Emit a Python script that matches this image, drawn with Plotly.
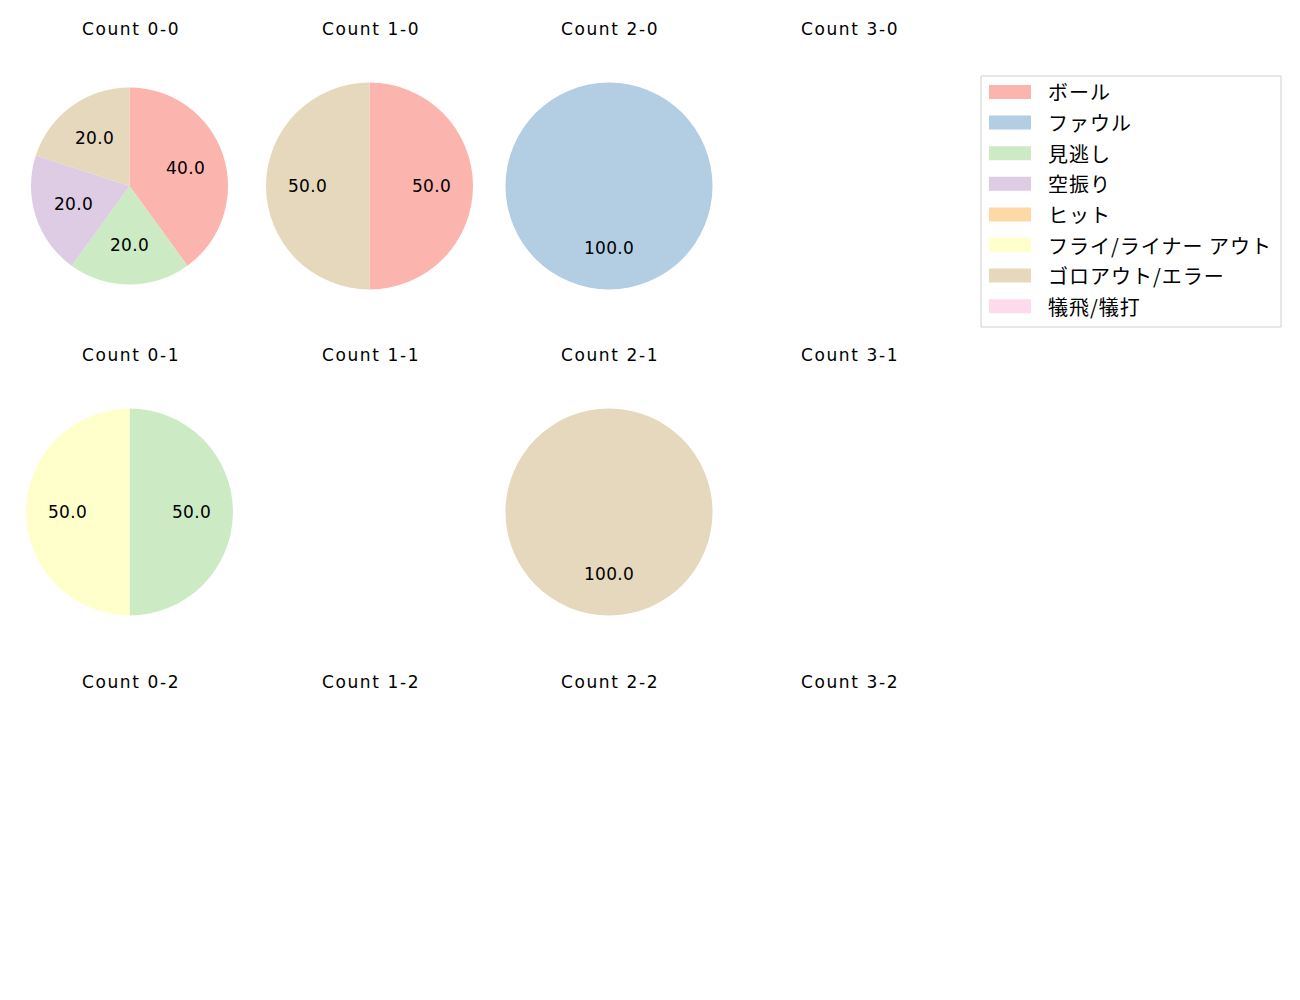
import math
import plotly.graph_objects as go

# ---- data ----
categories = ["ボール", "ファウル", "見逃し", "空振り", "ヒット",
              "フライ/ライナー アウト", "ゴロアウト/エラー", "犠飛/犠打"]
colors = ["#fbb4ae", "#b3cde3", "#ccebc5", "#decbe4", "#fed9a6",
          "#ffffcc", "#e5d8bd", "#fddaec"]
count_labels = [["0-0", "1-0", "2-0", "3-0"],
                ["0-1", "1-1", "2-1", "3-1"],
                ["0-2", "1-2", "2-2", "3-2"]]
count_values = {
    "0-0": [2, 0, 1, 1, 0, 0, 1, 0],
    "1-0": [1, 0, 0, 0, 0, 0, 1, 0],
    "2-0": [0, 1, 0, 0, 0, 0, 0, 0],
    "3-0": [0, 0, 0, 0, 0, 0, 0, 0],
    "0-1": [0, 0, 1, 0, 0, 1, 0, 0],
    "1-1": [0, 0, 0, 0, 0, 0, 0, 0],
    "2-1": [0, 0, 0, 0, 0, 0, 1, 0],
    "3-1": [0, 0, 0, 0, 0, 0, 0, 0],
    "0-2": [0, 0, 0, 0, 0, 0, 0, 0],
    "1-2": [0, 0, 0, 0, 0, 0, 0, 0],
    "2-2": [0, 0, 0, 0, 0, 0, 0, 0],
    "3-2": [0, 0, 0, 0, 0, 0, 0, 0],
}

# ---- layout constants ----
W, H = 1300, 1000
OFF = 8  # page offset of the plot inside the browser window
LATIN = "DejaVu Sans"
JP = "Noto Sans CJK JP"
col_cx = [129.5, 369.5, 609, 849]
row_cy = [186, 512, 839]
title_y = [29, 355, 682]
R_DEFAULT = 103.5
R_SMALL = 98.5  # first panel has a slightly smaller pie


def px_x(x):
    return (x - OFF) / W


def px_y(y):
    return 1 - (y - OFF) / H


def spaced(s, sp):
    return f'<span style="letter-spacing:{sp}px">{s}</span>'


fig = go.Figure()
annotations = []
shapes = []

for ri, row in enumerate(count_labels):
    for ci, lab in enumerate(row):
        cx, cy = col_cx[ci], row_cy[ri]
        annotations.append(dict(
            x=px_x(cx + 1), y=px_y(title_y[ri]), xref="paper", yref="paper",
            text=spaced(f"Count {lab}", 1.6), showarrow=False,
            font=dict(family=LATIN, size=17, color="#000000"),
            xanchor="center", yanchor="middle"))
        vals = count_values[lab]
        total = sum(vals)
        if total == 0:
            continue
        r = R_SMALL if lab == "0-0" else R_DEFAULT
        idx = [i for i, v in enumerate(vals) if v > 0]
        fig.add_trace(go.Pie(
            labels=[categories[i] for i in idx],
            values=[vals[i] for i in idx],
            marker=dict(colors=[colors[i] for i in idx], line=dict(width=0)),
            sort=False, direction="clockwise", rotation=0,
            textinfo="none", hoverinfo="label+percent",
            showlegend=False,
            domain=dict(x=[px_x(cx - r), px_x(cx + r)],
                        y=[px_y(cy + r), px_y(cy - r)]),
        ))
        # percentage labels at 0.6 R, mid-angle (matplotlib style)
        start = 90.0
        for i in idx:
            frac = vals[i] / total
            mid = start - frac * 360 / 2
            start -= frac * 360
            lx = cx + 0.6 * r * math.cos(math.radians(mid))
            ly = cy - 0.6 * r * math.sin(math.radians(mid))
            annotations.append(dict(
                x=px_x(lx), y=px_y(ly), xref="paper", yref="paper",
                text=spaced(f"{frac * 100:.1f}", 0.3), showarrow=False,
                font=dict(family=LATIN, size=17, color="#000000"),
                xanchor="center", yanchor="middle"))

# ---- manual legend ----
lx0, ly0, lx1, ly1 = 981, 76, 1281, 327
shapes.append(dict(type="rect", xref="paper", yref="paper",
                   x0=px_x(lx0), x1=px_x(lx1), y0=px_y(ly1), y1=px_y(ly0),
                   line=dict(color="#d0d0d0", width=1), fillcolor="white",
                   layer="below"))
row_step = 30.6
for i, (cat, col) in enumerate(zip(categories, colors)):
    yc = 92 + i * row_step
    shapes.append(dict(type="rect", xref="paper", yref="paper",
                       x0=px_x(989), x1=px_x(1031),
                       y0=px_y(yc + 7), y1=px_y(yc - 7),
                       line=dict(width=0), fillcolor=col))
    annotations.append(dict(
        x=px_x(1046), y=px_y(yc), xref="paper", yref="paper",
        text=spaced(cat, 1), showarrow=False,
        font=dict(family=JP, size=20, color="#000000"),
        xanchor="left", yanchor="middle"))

fig.update_layout(
    width=W, height=H,
    margin=dict(l=0, r=0, t=0, b=0),
    paper_bgcolor="white", plot_bgcolor="white",
    annotations=annotations, shapes=shapes,
    font=dict(family=JP),
)

fig.write_html("out.html")
